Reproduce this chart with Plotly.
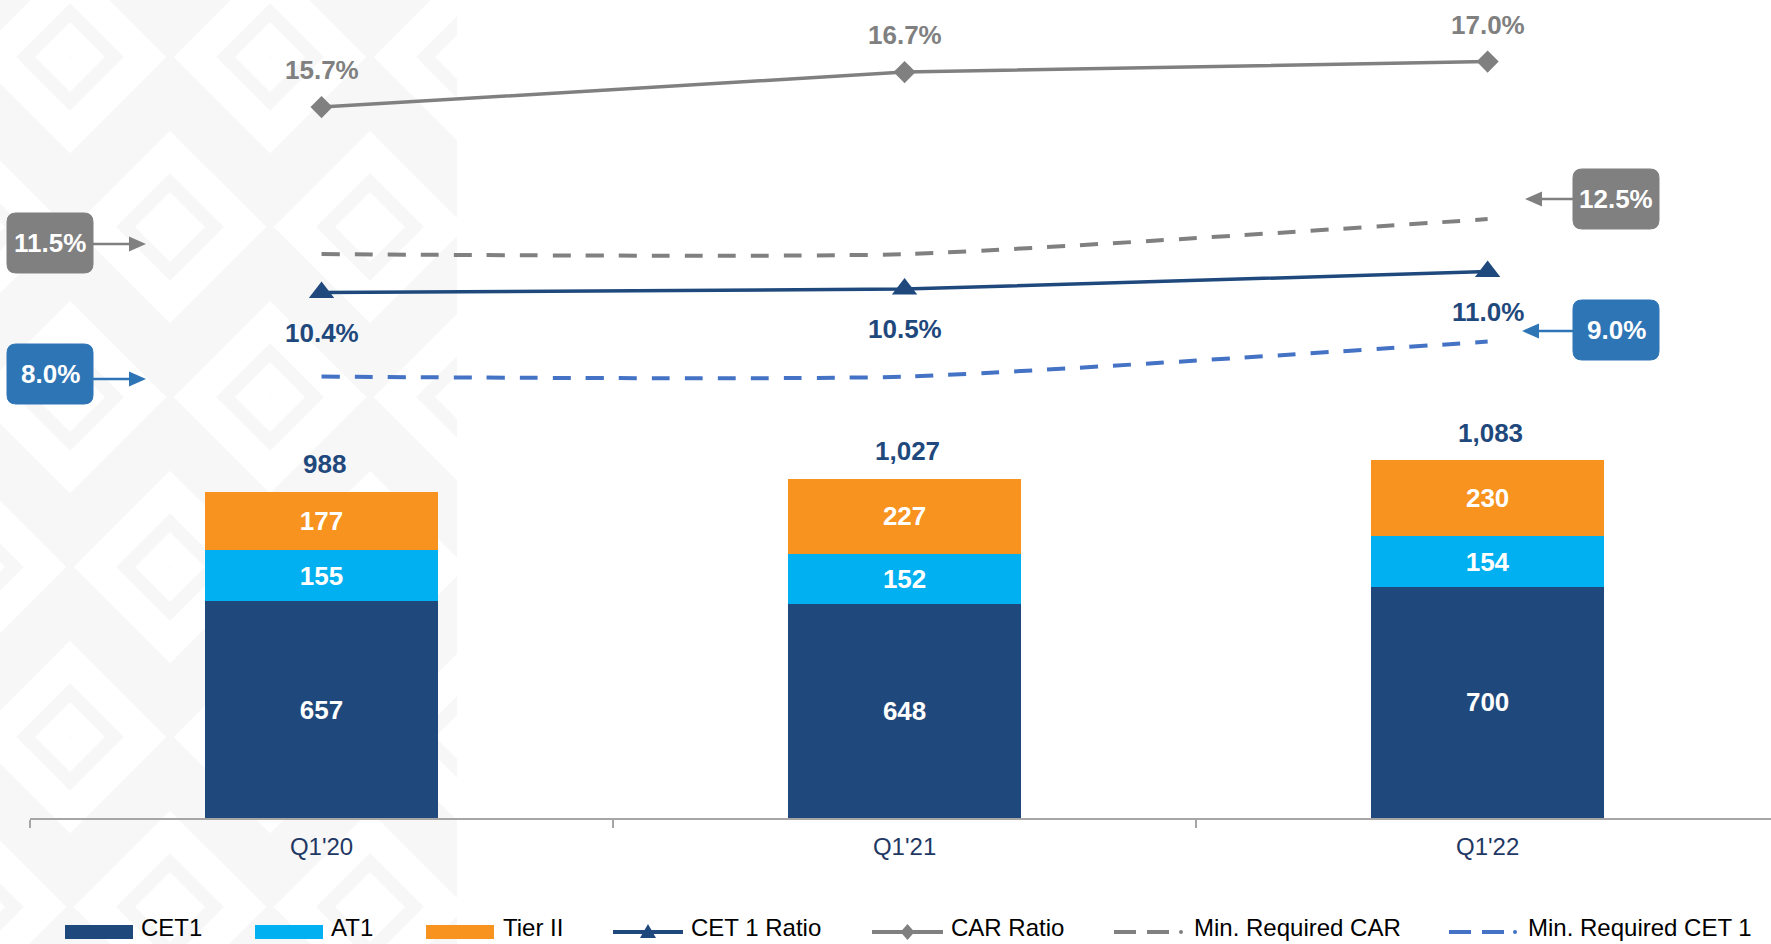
import plotly.graph_objects as go

# ---------------- data ----------------
categories = ["Q1'20", "Q1'21", "Q1'22"]
cet1 = [657, 648, 700]
at1 = [155, 152, 154]
tier2 = [177, 227, 230]
totals = [988, 1027, 1083]
cet1_ratio = [10.4, 10.5, 11.0]
car_ratio = [15.7, 16.7, 17.0]
min_car = [11.5, 11.5, 12.5]
min_cet1 = [8.0, 8.0, 9.0]
legend_names = ["CET1", "AT1", "Tier II", "CET 1 Ratio", "CAR Ratio",
                "Min. Required CAR", "Min. Required CET 1"]

# ---------------- style ----------------
FONT = "Liberation Sans, Arial, sans-serif"
C_CET1 = "#1F497D"
C_AT1 = "#00B0F0"
C_T2 = "#F7931E"
C_GRAY = "#808080"
C_BLUE = "#4472C4"
C_BOX_BLUE = "#2E75B6"
C_NAVY = "#1F3864"

W, H = 1771, 944
L, T, PW, PH = 30, 0, 1741, 818


def px(x):
    return (x - L) / PW


def py(y):
    return (T + PH - y) / PH


fig = go.Figure()

for name, vals, col in [(legend_names[0], cet1, C_CET1),
                        (legend_names[1], at1, C_AT1),
                        (legend_names[2], tier2, C_T2)]:
    fig.add_trace(go.Bar(
        x=categories, y=vals, name=name, marker=dict(color=col, line=dict(width=0)),
        width=0.4, text=[str(v) for v in vals], textposition="inside",
        insidetextanchor="middle", constraintext="none", textangle=0,
        textfont=dict(family=FONT, size=26, color="white", weight="bold"),
        showlegend=False, hoverinfo="skip"))

fig.add_trace(go.Scatter(
    x=categories, y=min_car, yaxis="y2", mode="lines", name=legend_names[5],
    line=dict(color=C_GRAY, width=4, dash="18px,15px", shape="spline", smoothing=0.55),
    showlegend=False, hoverinfo="skip"))
fig.add_trace(go.Scatter(
    x=categories, y=min_cet1, yaxis="y2", mode="lines", name=legend_names[6],
    line=dict(color=C_BLUE, width=4, dash="18px,15px", shape="spline", smoothing=0.55),
    showlegend=False, hoverinfo="skip"))
fig.add_trace(go.Scatter(
    x=categories, y=car_ratio, yaxis="y2", mode="lines+markers", name=legend_names[4],
    line=dict(color=C_GRAY, width=3.5),
    marker=dict(symbol="diamond", size=17, color=C_GRAY),
    showlegend=False, hoverinfo="skip"))
fig.add_trace(go.Scatter(
    x=categories, y=cet1_ratio, yaxis="y2", mode="lines+markers", name=legend_names[3],
    line=dict(color=C_CET1, width=3.5),
    marker=dict(symbol="triangle-up", size=22, color=C_CET1),
    showlegend=False, hoverinfo="skip"))

annotations = []
shapes = []

# value labels
for c, t in zip(categories, totals):
    annotations.append(dict(x=c, y=t, xref="x", yref="y", text=f"{t:,}", showarrow=False,
                            yanchor="middle", yshift=28, xshift=3,
                            font=dict(family=FONT, size=26, color=C_CET1, weight="bold")))
for c, v in zip(categories, car_ratio):
    annotations.append(dict(x=c, y=v, xref="x", yref="y2", text=f"{v:.1f}%", showarrow=False,
                            yanchor="middle", yshift=37,
                            font=dict(family=FONT, size=26, color=C_GRAY, weight="bold")))
for c, v in zip(categories, cet1_ratio):
    annotations.append(dict(x=c, y=v, xref="x", yref="y2", text=f"{v:.1f}%", showarrow=False,
                            yanchor="middle", yshift=-40,
                            font=dict(family=FONT, size=26, color=C_CET1, weight="bold")))

# ---------------- background watermark (decorative) ----------------
PAT_R = 457
shapes.append(dict(type="rect", xref="paper", yref="paper", x0=px(0), x1=px(PAT_R),
                   y0=py(H), y1=py(0), fillcolor="#F7F7F7", line=dict(width=0), layer="below"))


def diamond_path(cx, cy, r):
    pts = [(cx, cy - r), (cx + r, cy), (cx, cy + r), (cx - r, cy)]
    return "M" + " L".join(f"{px(a):.5f},{py(b):.5f}" for a, b in pts) + " Z"


for row in range(-1, 7):
    for col in range(-1, 4):
        cx = col * 200 + (100 if row % 2 else 0) + 70
        cy = row * 170 + 57
        shapes.append(dict(type="path", xref="paper", yref="paper", path=diamond_path(cx, cy, 75),
                           line=dict(color="white", width=30), fillcolor="rgba(0,0,0,0)",
                           layer="below"))
        shapes.append(dict(type="path", xref="paper", yref="paper", path=diamond_path(cx, cy, 18),
                           line=dict(color="white", width=24), fillcolor="rgba(0,0,0,0)",
                           layer="below"))
shapes.append(dict(type="rect", xref="paper", yref="paper", x0=px(PAT_R), x1=px(W + 20),
                   y0=py(H + 20), y1=py(-20), fillcolor="white", line=dict(width=0), layer="below"))


# ---------------- callout boxes ----------------
def rrect(x0, y0, x1, y1, r):
    p = [
        f"M{px(x0 + r):.5f},{py(y0):.5f}",
        f"L{px(x1 - r):.5f},{py(y0):.5f}",
        f"Q{px(x1):.5f},{py(y0):.5f} {px(x1):.5f},{py(y0 + r):.5f}",
        f"L{px(x1):.5f},{py(y1 - r):.5f}",
        f"Q{px(x1):.5f},{py(y1):.5f} {px(x1 - r):.5f},{py(y1):.5f}",
        f"L{px(x0 + r):.5f},{py(y1):.5f}",
        f"Q{px(x0):.5f},{py(y1):.5f} {px(x0):.5f},{py(y1 - r):.5f}",
        f"L{px(x0):.5f},{py(y0 + r):.5f}",
        f"Q{px(x0):.5f},{py(y0):.5f} {px(x0 + r):.5f},{py(y0):.5f} Z",
    ]
    return " ".join(p)


# (value, color, box_x0, box_x1, box_cy, arrow_tip_x, arrow_y)
callouts = [
    (min_car[0], C_GRAY, 7, 93, 243, 146, 244),
    (min_cet1[0], C_BOX_BLUE, 7, 93, 374, 146, 379),
    (min_car[-1], C_GRAY, 1573, 1659, 199, 1525, 199),
    (min_cet1[-1], C_BOX_BLUE, 1573, 1659, 330, 1522, 331),
]
for val, col, bx0, bx1, bcy, tipx, ay in callouts:
    shapes.append(dict(type="path", xref="paper", yref="paper",
                       path=rrect(bx0, bcy - 30, bx1, bcy + 30, 9),
                       fillcolor=col, line=dict(color=col, width=1)))
    tail = bx1 if tipx > bx1 else bx0
    d = 1 if tipx > tail else -1
    shapes.append(dict(type="line", xref="paper", yref="paper",
                       x0=px(tail), x1=px(tipx - d * 14), y0=py(ay), y1=py(ay),
                       line=dict(color=col, width=2.5)))
    tri = [(tipx, ay), (tipx - d * 17, ay - 7.5), (tipx - d * 17, ay + 7.5)]
    shapes.append(dict(type="path", xref="paper", yref="paper",
                       path="M" + " L".join(f"{px(a):.5f},{py(b):.5f}" for a, b in tri) + " Z",
                       fillcolor=col, line=dict(color=col, width=0)))
    annotations.append(dict(x=px((bx0 + bx1) / 2), y=py(bcy), xref="paper", yref="paper",
                            text=f"{val:.1f}%", showarrow=False, xanchor="center", yanchor="middle",
                            font=dict(family=FONT, size=26, color="white", weight="bold")))

# ---------------- custom legend ----------------
LY = 932
LTY = 928
leg_items = [
    # (kind, color, x0, x1, text_x)
    ("rect", C_CET1, 65, 133, 139),
    ("rect", C_AT1, 255, 323, 329),
    ("rect", C_T2, 426, 494, 501),
    ("tri", C_CET1, 613, 683, 689),
    ("dia", C_GRAY, 872, 943, 949),
    ("dash", C_GRAY, 1114, 1186, 1192),
    ("dash", C_BLUE, 1449, 1520, 1526),
]
for (kind, col, x0, x1, tx), name in zip(leg_items, legend_names):
    if kind == "rect":
        shapes.append(dict(type="rect", xref="paper", yref="paper", x0=px(x0), x1=px(x1),
                           y0=py(LY - 7), y1=py(LY + 7), fillcolor=col, line=dict(width=0)))
    elif kind in ("tri", "dia"):
        shapes.append(dict(type="line", xref="paper", yref="paper", x0=px(x0), x1=px(x1),
                           y0=py(LY), y1=py(LY), line=dict(color=col, width=4)))
        cx = (x0 + x1) / 2
        if kind == "tri":
            pts = [(cx, LY - 8), (cx + 8, LY + 6), (cx - 8, LY + 6)]
        else:
            pts = [(cx, LY - 8), (cx + 7, LY), (cx, LY + 8), (cx - 7, LY)]
        shapes.append(dict(type="path", xref="paper", yref="paper",
                           path="M" + " L".join(f"{px(a):.5f},{py(b):.5f}" for a, b in pts) + " Z",
                           fillcolor=col, line=dict(width=0)))
    else:
        shapes.append(dict(type="line", xref="paper", yref="paper", x0=px(x0), x1=px(x1 - 8),
                           y0=py(LY), y1=py(LY), line=dict(color=col, width=4, dash="22px,11px")))
        shapes.append(dict(type="circle", xref="paper", yref="paper", x0=px(x1 - 7), x1=px(x1 - 3),
                           y0=py(LY + 2), y1=py(LY - 2), fillcolor=col, line=dict(width=0)))
    annotations.append(dict(x=px(tx), y=py(LTY), xref="paper", yref="paper", text=name,
                            showarrow=False, xanchor="left", yanchor="middle",
                            font=dict(family=FONT, size=24, color="#000000")))

fig.update_layout(
    width=W, height=H,
    margin=dict(l=L, r=W - L - PW, t=T, b=H - T - PH, pad=0),
    barmode="stack",
    paper_bgcolor="white", plot_bgcolor="rgba(0,0,0,0)",
    showlegend=False,
    xaxis=dict(type="category", range=[-0.5, 2.486], showgrid=False, zeroline=False,
               showline=True, linecolor="#A6A6A6", linewidth=1.5,
               ticks="outside", tickson="boundaries", ticklen=8, tickcolor="#A6A6A6",
               tickwidth=1.5, ticklabelstandoff=6,
               tickfont=dict(family=FONT, size=24, color=C_NAVY)),
    yaxis=dict(range=[0, 2478], visible=False, showgrid=False, zeroline=False),
    yaxis2=dict(range=[-4.61, 18.76], overlaying="y", visible=False, showgrid=False,
                zeroline=False),
    shapes=shapes,
    annotations=annotations,
    font=dict(family=FONT),
)

fig.write_html("out.html")
